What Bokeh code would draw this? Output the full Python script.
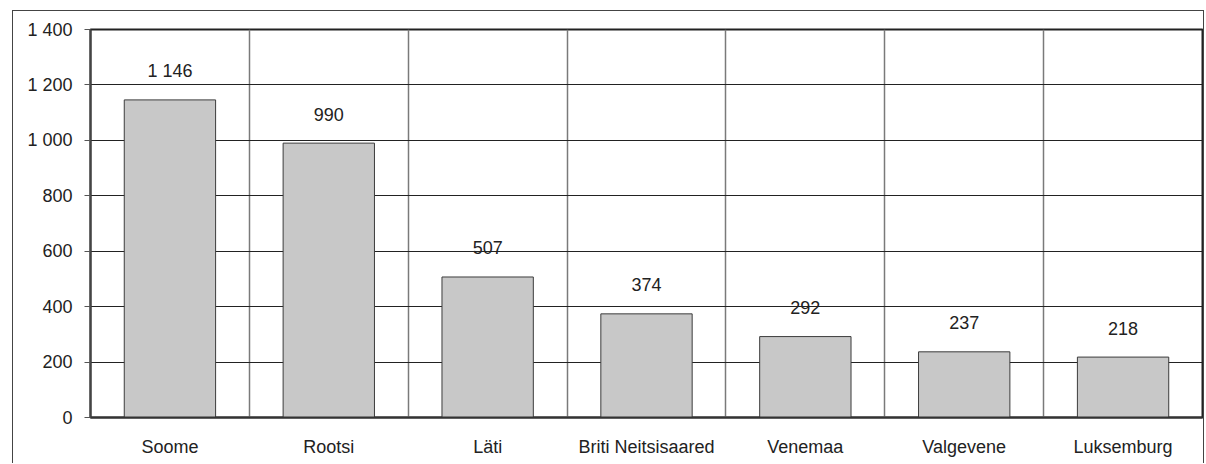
from bokeh.plotting import figure
from bokeh.models import FixedTicker, ColumnDataSource, Range1d
from bokeh.core.properties import value
from bokeh.embed import file_html
from bokeh.resources import INLINE

categories = ["Soome", "Rootsi", "Läti", "Briti Neitsisaared", "Venemaa", "Valgevene", "Luksemburg"]
values = [1146, 990, 507, 374, 292, 237, 218]
value_labels = ["1 146", "990", "507", "374", "292", "237", "218"]
y_ticks = [0, 200, 400, 600, 800, 1000, 1200, 1400]
y_tick_labels = ["0", "200", "400", "600", "800", "1 000", "1 200", "1 400"]

FONT = "Liberation Sans"
FS = "18px"

xs = list(range(1, len(categories) + 1))
src = ColumnDataSource(dict(x=xs, top=values, lab=value_labels))

p = figure(width=1192, height=453, output_backend="svg", toolbar_location=None,
           x_range=Range1d(0.5, len(categories) + 0.5), y_range=Range1d(0, 1400),
           min_border_left=77, min_border_right=3, min_border_top=18, min_border_bottom=47)
p.margin = (10, 0, 0, 12)
p.styles = {"border-top": "1px solid #444444", "border-left": "1px solid #444444",
            "border-right": "1px solid #444444"}

p.vbar(x="x", top="top", width=0.575, bottom=0, source=src,
       fill_color="#c8c8c8", line_color="#3c3c3c", line_width=1)
p.text(x="x", y="top", text="lab", source=src, text_align="center", text_baseline="middle",
       y_offset=-29, text_font=value(FONT), text_font_size=FS, text_color="#222222")

p.outline_line_color = "#222222"
p.outline_line_width = 2

# y axis
p.yaxis.ticker = FixedTicker(ticks=y_ticks)
p.yaxis.major_label_overrides = {t: l for t, l in zip(y_ticks, y_tick_labels)}
p.yaxis.major_tick_out = 6
p.yaxis.major_tick_in = 0
p.yaxis.minor_tick_line_color = None
p.yaxis.major_tick_line_color = "#555555"
p.yaxis.axis_line_color = "#444444"
p.yaxis.axis_line_width = 2
p.yaxis.major_label_standoff = 12
p.yaxis.major_label_text_font = FONT
p.yaxis.major_label_text_font_size = FS
p.yaxis.major_label_text_color = "#222222"

# x axis
p.xaxis.ticker = FixedTicker(ticks=xs)
p.xaxis.major_label_overrides = {x: c for x, c in zip(xs, categories)}
p.xaxis.major_tick_line_color = None
p.xaxis.minor_tick_line_color = None
p.xaxis.axis_line_color = "#333333"
p.xaxis.axis_line_width = 2
p.xaxis.major_label_standoff = 13
p.xaxis.major_label_text_font = FONT
p.xaxis.major_label_text_font_size = FS
p.xaxis.major_label_text_color = "#222222"

# grids
p.ygrid.ticker = FixedTicker(ticks=y_ticks)
p.ygrid.grid_line_color = "#222222"
p.ygrid.grid_line_width = 1
p.xgrid.ticker = FixedTicker(ticks=[x + 0.5 for x in xs[:-1]])
p.xgrid.grid_line_color = "#7a7a7a"
p.xgrid.grid_line_width = 1.5

open("out.html", "w").write(file_html(p, INLINE))
